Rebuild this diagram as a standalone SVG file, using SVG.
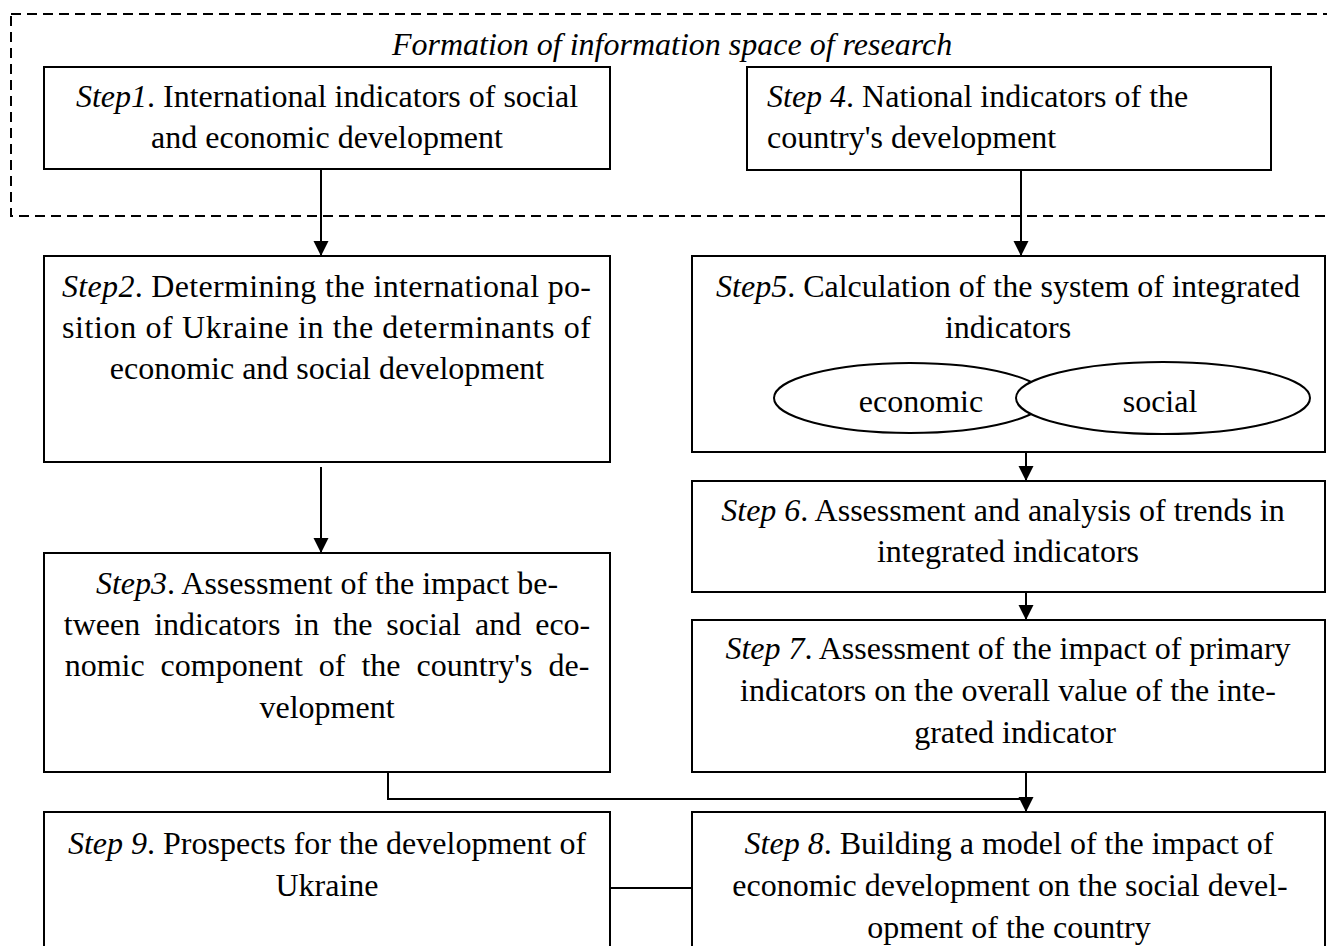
<svg xmlns="http://www.w3.org/2000/svg" width="1327" height="946" viewBox="0 0 1327 946">
<style>
.box{fill:#fff;stroke:#000;stroke-width:2}
.ell{fill:#fff;stroke:#000;stroke-width:2}
.dash{fill:none;stroke:#000;stroke-width:2;stroke-dasharray:10 6}
.t{font-family:"Liberation Serif","Times New Roman",serif;font-size:32px;fill:#000}
.c{text-anchor:middle}
.i{font-style:italic}
.ln{fill:none;stroke:#000;stroke-width:2}
</style>
<defs>
<marker id="ah" markerWidth="16" markerHeight="16" refX="15" refY="7.5" orient="auto" markerUnits="userSpaceOnUse">
<path d="M0,0 L15,7.5 L0,15 Z" fill="#000"/>
</marker>
</defs>
<rect width="1327" height="946" fill="#fff"/>
<g id="frame">
<rect class="dash" x="11" y="14" width="1340" height="202"/>
<text class="t c i" x="672" y="55">Formation of information space of research</text>
</g>
<g id="connectors">
<line class="ln" x1="321" y1="169" x2="321" y2="256" marker-end="url(#ah)"/>
<line class="ln" x1="1021" y1="170" x2="1021" y2="256" marker-end="url(#ah)"/>
<line class="ln" x1="321" y1="467" x2="321" y2="553" marker-end="url(#ah)"/>
<line class="ln" x1="1026" y1="452" x2="1026" y2="481" marker-end="url(#ah)"/>
<line class="ln" x1="1026" y1="592" x2="1026" y2="620" marker-end="url(#ah)"/>
<line class="ln" x1="1026" y1="772" x2="1026" y2="812" marker-end="url(#ah)"/>
<polyline class="ln" points="388,772 388,799 1026,799"/>
<line class="ln" x1="610" y1="888" x2="692" y2="888"/>
</g>
<g id="step1">
<rect class="box" x="44" y="67" width="566" height="102"/>
<text class="t c" x="327" y="107"><tspan class="i">Step1</tspan>. International indicators of social</text>
<text class="t c" x="327" y="148">and economic development</text>
</g>
<g id="step4">
<rect class="box" x="747" y="67" width="524" height="103"/>
<text class="t" x="767" y="107"><tspan class="i">Step 4</tspan>. National indicators of the</text>
<text class="t" x="767" y="148">country's development</text>
</g>
<g id="step2">
<rect class="box" x="44" y="256" width="566" height="206"/>
<text class="t" x="62" y="297" textLength="529" lengthAdjust="spacing"><tspan class="i">Step2</tspan>. Determining the international po-</text>
<text class="t" x="62" y="338" textLength="529" lengthAdjust="spacing">sition of Ukraine in the determinants of</text>
<text class="t c" x="327" y="379">economic and social development</text>
</g>
<g id="step3">
<rect class="box" x="44" y="553" width="566" height="219"/>
<text class="t c" x="327" y="594"><tspan class="i">Step3</tspan>. Assessment of the impact be-</text>
<text class="t c" x="327" y="635" style="word-spacing:6px">tween indicators in the social and eco-</text>
<text class="t c" x="327" y="676" style="word-spacing:8px">nomic component of the country's de-</text>
<text class="t c" x="327" y="718">velopment</text>
</g>
<g id="step5">
<rect class="box" x="692" y="256" width="633" height="196"/>
<text class="t c" x="1008" y="297"><tspan class="i">Step5</tspan>. Calculation of the system of integrated</text>
<text class="t c" x="1008" y="338">indicators</text>
<ellipse class="ell" cx="910" cy="398" rx="136" ry="35"/>
<ellipse class="ell" cx="1163" cy="398" rx="147" ry="36"/>
<text class="t c" x="921" y="412">economic</text>
<text class="t c" x="1160" y="412">social</text>
</g>
<g id="step6">
<rect class="box" x="692" y="481" width="633" height="111"/>
<text class="t c" x="1003" y="521"><tspan class="i">Step 6</tspan>. Assessment and analysis of trends in</text>
<text class="t c" x="1008" y="562">integrated indicators</text>
</g>
<g id="step7">
<rect class="box" x="692" y="620" width="633" height="152"/>
<text class="t c" x="1008" y="659"><tspan class="i">Step 7</tspan>. Assessment of the impact of primary</text>
<text class="t c" x="1008" y="701">indicators on the overall value of the inte-</text>
<text class="t c" x="1015" y="743">grated indicator</text>
</g>
<g id="step9">
<rect class="box" x="44" y="812" width="566" height="150"/>
<text class="t c" x="327" y="854"><tspan class="i">Step 9</tspan>. Prospects for the development of</text>
<text class="t c" x="327" y="896">Ukraine</text>
</g>
<g id="step8">
<rect class="box" x="692" y="812" width="633" height="150"/>
<text class="t c" x="1009" y="854"><tspan class="i">Step 8</tspan>. Building a model of the impact of</text>
<text class="t c" x="1010" y="896">economic development on the social devel-</text>
<text class="t c" x="1009" y="938">opment of the country</text>
</g>
</svg>
